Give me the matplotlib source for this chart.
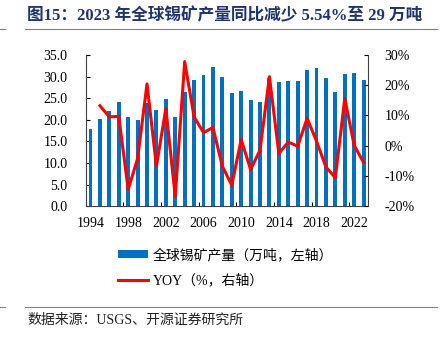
import numpy as np
import matplotlib as mpl
mpl.use("Agg")
import matplotlib.pyplot as plt
from matplotlib.lines import Line2D
from matplotlib.ticker import FuncFormatter

plt.rcParams['font.family'] = ['Liberation Serif', 'Noto Sans CJK SC']
plt.rcParams['axes.unicode_minus'] = False

# data
years = list(range(1994, 2024))
output = [17.9, 20.1, 22.0, 24.2, 20.6, 19.9, 23.9, 22.2, 24.9, 20.7,
          26.5, 29.1, 30.3, 32.1, 29.9, 26.1, 26.6, 24.5, 24.1, 29.6,
          28.7, 29.0, 28.9, 31.4, 31.9, 29.7, 26.5, 30.6, 30.8, 29.1]
yoy_years = list(range(1995, 2024))
yoy = [13.2, 9.5, 9.7, -14.5, -4.3, 20.4, -6.8, 12.3, -16.8, 27.8,
       9.5, 4.3, 6.0, -6.8, -13.1, 2.0, -7.9, -1.5, 22.8, -2.6,
       1.2, -0.2, 9.0, 1.5, -7.1, -10.6, 15.6, 0.1, -5.6]
label_years = [1994, 1998, 2002, 2006, 2010, 2014, 2018, 2022]

title = "图15：2023 年全球锡矿产量同比减少 5.54%至 29 万吨"
bar_label = "全球锡矿产量（万吨，左轴）"
line_label = "YOY（%，右轴）"
source = "数据来源：USGS、开源证券研究所"

fig = plt.figure(figsize=(4.4, 3.39), dpi=100)
ax = fig.add_axes([0.195, 0.392, 0.641, 0.446])
ax2 = ax.twinx()

bars = ax.bar(years, output, width=0.42, color='#0070c0', zorder=2, label=bar_label)
line, = ax2.plot(yoy_years, yoy, color='#ff0000', lw=2.2, label=line_label, zorder=3)

ax.set_xlim(1993.5, 2023.45)
ax.set_ylim(0, 35)
ax.set_yticks(np.arange(0, 35.1, 5))
ax.yaxis.set_major_formatter(FuncFormatter(lambda v, p: "%.1f" % v))
ax2.set_ylim(-20, 30)
ax2.set_yticks(np.arange(-20, 31, 10))
ax2.yaxis.set_major_formatter(FuncFormatter(lambda v, p: "%d%%" % v))

ax.set_xticks(label_years)
ax.set_xticklabels([str(y) for y in label_years])
ax.set_xticks(np.arange(1993.5, 2024, 4), minor=True)
ax.tick_params(axis='x', which='major', length=0, pad=8, labelsize=10)
ax.tick_params(axis='x', which='minor', direction='in', length=3, width=0.8)
ax.tick_params(axis='y', direction='in', length=3, width=0.8, pad=13, labelsize=10)
ax2.tick_params(axis='y', direction='in', length=3, width=0.8, pad=12, labelsize=10)

for a in (ax, ax2):
    a.spines['top'].set_visible(False)
    for s in ('left', 'right', 'bottom'):
        a.spines[s].set_color('#404040')
        a.spines[s].set_linewidth(0.8)
ax.spines['right'].set_visible(False)
ax2.spines['left'].set_visible(False)
ax2.spines['bottom'].set_visible(False)

fig.legend([bars, line], [bar_label, line_label], loc='upper left',
           bbox_to_anchor=(0.268, 0.268), frameon=False, fontsize=10,
           handlelength=2.2, handleheight=0.5, handletextpad=0.3,
           labelspacing=0.85, borderaxespad=0, borderpad=0)

# title and source with separator lines
fig.text(0.062, 0.953, title, fontsize=12, fontweight='bold', color='#1f3370',
         va='center', ha='left')
fig.text(0.062, 0.056, source, fontsize=10, color='#222222', va='center', ha='left')
for yy in (0.914, 0.094):
    fig.add_artist(Line2D([0.057, 0.993], [yy, yy], color='#808080', lw=0.8))
    fig.add_artist(Line2D([0.0, 0.012], [yy, yy], color='#808080', lw=0.8))

fig.savefig("out.png", dpi=100)
